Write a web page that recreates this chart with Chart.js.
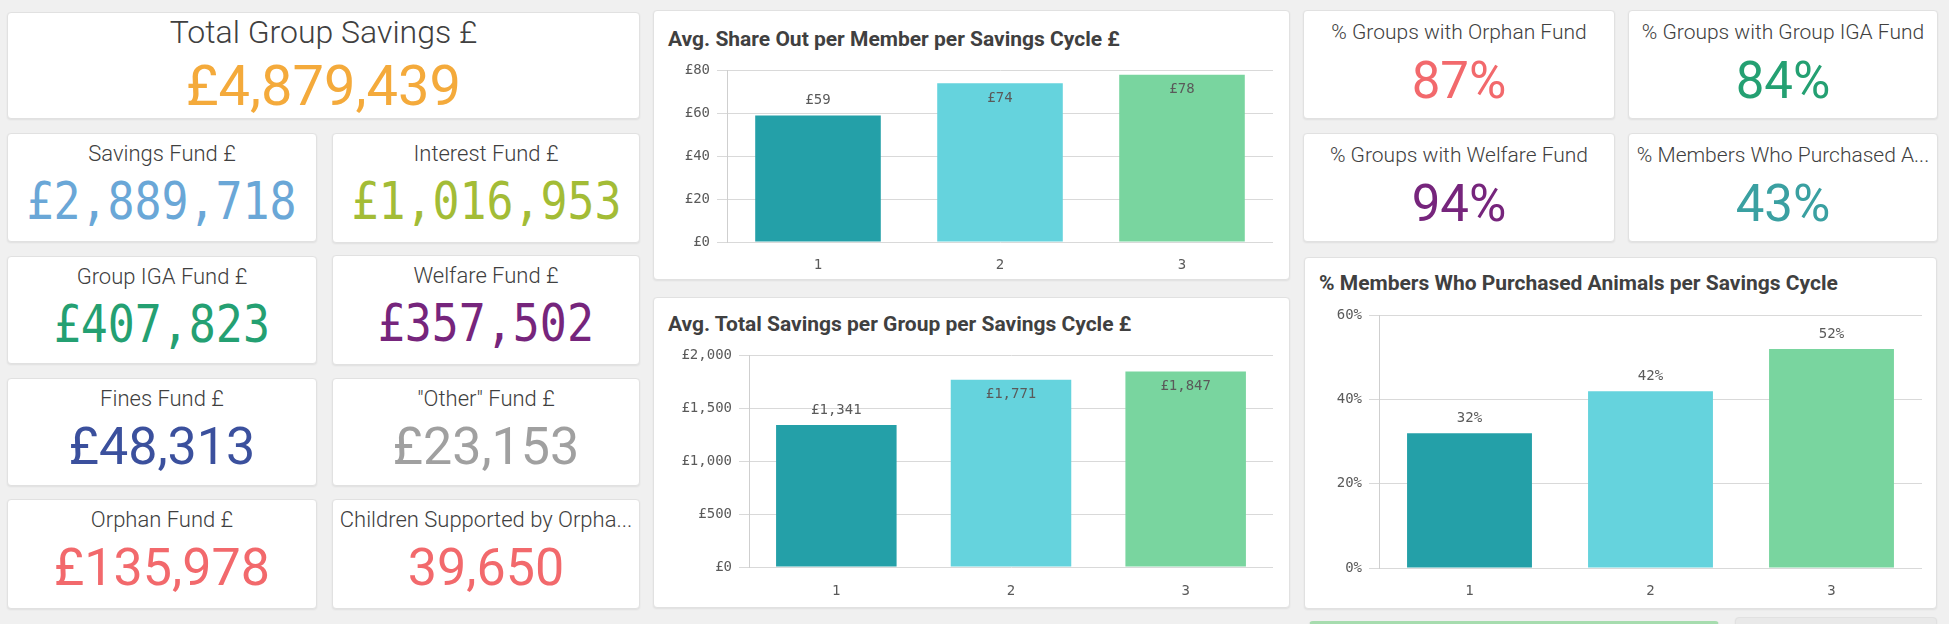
<!DOCTYPE html>
<html><head><meta charset="utf-8">
<script src="https://cdn.jsdelivr.net/npm/chart.js@4.4.1/dist/chart.umd.min.js"></script>
<style>
html,body{margin:0;padding:0;background:#f0f0f0;width:1949px;height:624px;overflow:hidden;font-family:Roboto,'Noto Sans',sans-serif;}
.tile{position:absolute;background:#fff;border:1px solid #e1e1e1;border-radius:4px;box-shadow:0 1px 2px rgba(0,0,0,.07);box-sizing:border-box;overflow:hidden}
.lbl{position:absolute;left:0;right:0;text-align:center;color:#404040;white-space:nowrap;font-weight:300}
.val{position:absolute;left:0;right:0;text-align:center;white-space:nowrap;font-weight:400}
.val span{display:inline-block}
.mono span{font-family:'DejaVu Sans Mono',monospace;font-weight:400;transform:scaleX(.88)}
.ctitle{position:absolute;font-weight:700;font-size:21px;line-height:21px;color:#404040;white-space:nowrap;font-family:Roboto,sans-serif}
.cwrap{position:absolute}
</style>
</head><body>
<script>
// ---- data ----
const kpiTitles = ['Total Group Savings £','Savings Fund £','Interest Fund £','Group IGA Fund £','Welfare Fund £','Fines Fund £','"Other" Fund £','Orphan Fund £','Children Supported by Orpha...'];
const kpiValues = [4879439, 2889718, 1016953, 407823, 357502, 48313, 23153, 135978, 39650];
const kpiCurrency = [true, true, true, true, true, true, true, true, false];
const pctTitles = ['% Groups with Orphan Fund','% Groups with Group IGA Fund','% Groups with Welfare Fund','% Members Who Purchased A...'];
const pctValues = [87, 84, 94, 43];
const cycles = ['1','2','3'];
const shareOut = [59, 74, 78];
const totalSavings = [1341, 1771, 1847];
const animalsPct = [32, 42, 52];
const shareOutTicks = [0, 20, 40, 60, 80];
const savingsTicks = [0, 500, 1000, 1500, 2000];
const animalsTicks = [0, 20, 40, 60];
const chartTitles = ['Avg. Share Out per Member per Savings Cycle £','Avg. Total Savings per Group per Savings Cycle £','% Members Who Purchased Animals per Savings Cycle'];

// ---- layout / styles ----
const barColors = ['#24a0a8','#65d3dd','#79d59f'];
const kpiLayout = [
 {x:7,y:12,w:633,h:107,c:'#f4aa3b',mono:false,lf:32,lt:3,vf:56,vt:45},
 {x:7,y:133,w:310,h:109,c:'#6aa7d7',mono:true},
 {x:332,y:133,w:308,h:110,c:'#a3bc36',mono:true},
 {x:7,y:256,w:310,h:108,c:'#24a072',mono:true},
 {x:332,y:255,w:308,h:110,c:'#76257c',mono:true},
 {x:7,y:378,w:310,h:108,c:'#3b509d',mono:false},
 {x:332,y:378,w:308,h:108,c:'#a0a0a0',mono:false},
 {x:7,y:499,w:310,h:110,c:'#f2696c',mono:false},
 {x:332,y:499,w:308,h:110,c:'#f2696c',mono:false}
];
const pctLayout = [
 {x:1303,y:10,w:312,h:109,c:'#f2696c'},
 {x:1628,y:10,w:310,h:109,c:'#24a072'},
 {x:1303,y:133,w:312,h:109,c:'#76257c'},
 {x:1628,y:133,w:310,h:109,c:'#3aa0a1'}
];
const chartTiles = [
 {x:653,y:10,w:637,h:270, tx:668, ty:29, cx:653, cy:55, cw:637, ch:225, yw:74, pr:17, pt:12, xh:38, xp:15},
 {x:653,y:297,w:637,h:311, tx:668, ty:314, cx:653, cy:340, cw:637, ch:268, yw:96, pr:17, pt:14, xh:41, xp:16},
 {x:1304,y:257,w:633,h:352, tx:1319, ty:273, cx:1304, cy:300, cw:633, ch:309, yw:75, pr:15, pt:13, xh:41, xp:15}
];

const gbp = v => '£' + v.toLocaleString('en-GB');
const pct = v => v + '%';

function addTile(l){
  const d = document.createElement('div');
  d.className='tile';
  Object.assign(d.style,{left:l.x+'px',top:l.y+'px',width:l.w+'px',height:l.h+'px'});
  document.body.appendChild(d);
  return d;
}
function addKpi(l, title, text, mono, lf, lt, vf, vt){
  const d = addTile(l);
  const a = document.createElement('div');
  a.className='lbl'; a.textContent=title;
  Object.assign(a.style,{top:lt+'px',fontSize:lf+'px',lineHeight:lf+'px'});
  const b = document.createElement('div');
  b.className='val'+(mono?' mono':'');
  Object.assign(b.style,{top:vt+'px',fontSize:vf+'px',lineHeight:vf+'px',color:l.c});
  const s = document.createElement('span'); s.textContent=text; b.appendChild(s);
  d.appendChild(a); d.appendChild(b);
}
kpiTitles.forEach((t,i)=>{
  const l = kpiLayout[i];
  const txt = kpiCurrency[i] ? gbp(kpiValues[i]) : kpiValues[i].toLocaleString('en-GB');
  addKpi(l, t, txt, l.mono, l.lf||22, l.lt===undefined?9:l.lt, l.vf||(l.mono?51:52), l.vt||42);
});
pctTitles.forEach((t,i)=>{
  addKpi(pctLayout[i], t, pct(pctValues[i]), false, 21, 11, 51, 44);
});
// partial tiles at the bottom edge
(function(){
  const g = addTile({x:1309,y:621,w:410,h:20}); g.style.borderTop='3px solid #a6dcae';
  const r = addTile({x:1735,y:617,w:202,h:20}); r.style.background='#e9e9e9';
})();

function labelPlugin(fmt){
  return {
    id:'valueLabels',
    afterDatasetsDraw(chart){
      const {ctx, chartArea} = chart;
      const meta = chart.getDatasetMeta(0);
      const data = chart.data.datasets[0].data;
      ctx.save();
      ctx.font = '14px "DejaVu Sans Mono"';
      ctx.fillStyle = '#5a5a5a';
      ctx.textAlign = 'center';
      ctx.textBaseline = 'middle';
      meta.data.forEach((bar,i)=>{
        const inside = (bar.y - chartArea.top) < 30;
        ctx.fillText(fmt(data[i]), bar.x, inside ? bar.y + 15 : bar.y - 15);
      });
      ctx.restore();
    }
  };
}

function makeChart(idx, values, ticks, fmt){
  const t = chartTiles[idx];
  addTile(t);
  const ti = document.createElement('div');
  ti.className='ctitle'; ti.textContent = chartTitles[idx];
  Object.assign(ti.style,{left:t.tx+'px',top:t.ty+'px'});
  document.body.appendChild(ti);
  const w = document.createElement('div');
  w.className='cwrap';
  Object.assign(w.style,{left:t.cx+'px',top:t.cy+'px',width:t.cw+'px',height:t.ch+'px'});
  const cv = document.createElement('canvas');
  w.appendChild(cv); document.body.appendChild(w);
  new Chart(cv, {
    type:'bar',
    data:{labels:cycles, datasets:[{data:values, backgroundColor:barColors, borderWidth:0, categoryPercentage:1, barPercentage:0.69}]},
    plugins:[labelPlugin(fmt)],
    options:{
      responsive:true, maintainAspectRatio:false, animation:false,
      layout:{padding:{top:t.pt,right:t.pr,left:0,bottom:0}},
      plugins:{legend:{display:false},tooltip:{enabled:false}},
      scales:{
        x:{
          grid:{display:false,drawTicks:false},
          border:{display:false},
          ticks:{padding:t.xp,color:'#5a5a5a',font:{family:'DejaVu Sans Mono',size:14}},
          afterFit:s=>{s.height=t.xh;}
        },
        y:{
          min:ticks[0], max:ticks[ticks.length-1],
          afterBuildTicks:s=>{s.ticks = ticks.map(v=>({value:v}));},
          grid:{color:'#d9d9d9',tickLength:10,drawTicks:true},
          border:{display:true,color:'#cfcfcf'},
          ticks:{padding:7,color:'#5a5a5a',font:{family:'DejaVu Sans Mono',size:14},callback:v=>fmt(v)},
          afterFit:s=>{s.width=t.yw;}
        }
      }
    }
  });
}
makeChart(0, shareOut, shareOutTicks, gbp);
makeChart(1, totalSavings, savingsTicks, gbp);
makeChart(2, animalsPct, animalsTicks, pct);
</script>
</body></html>
